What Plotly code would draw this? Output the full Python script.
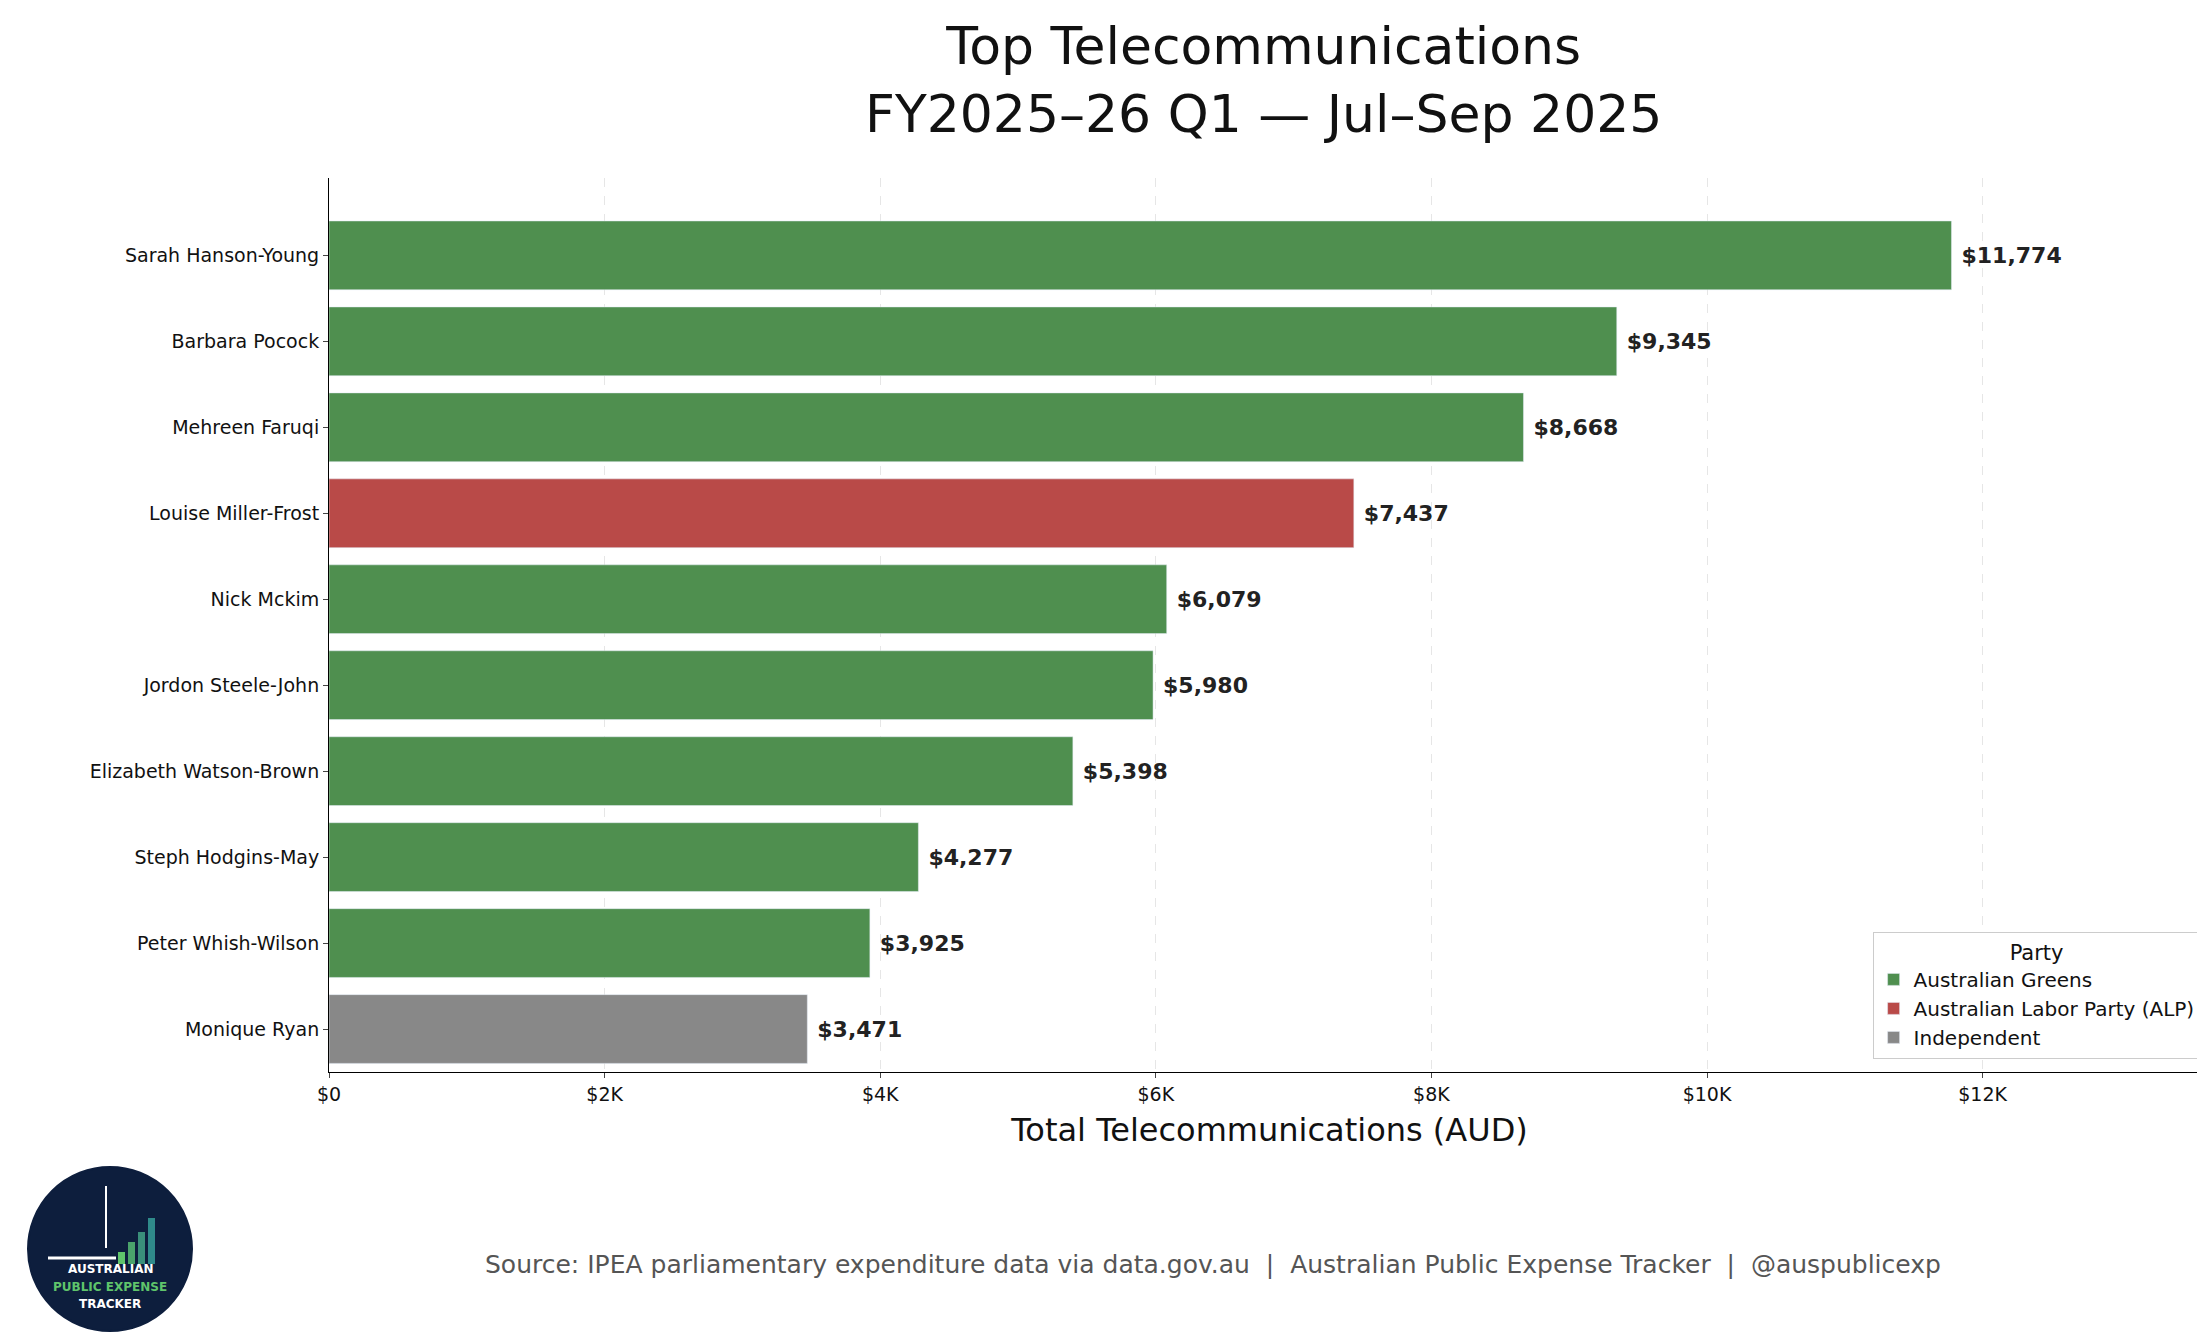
import plotly.graph_objects as go

names = ["Sarah Hanson-Young","Barbara Pocock","Mehreen Faruqi","Louise Miller-Frost","Nick Mckim",
         "Jordon Steele-John","Elizabeth Watson-Brown","Steph Hodgins-May","Peter Whish-Wilson","Monique Ryan"]
values = [11774,9345,8668,7437,6079,5980,5398,4277,3925,3471]
parties = ["Australian Greens"]*3+["Australian Labor Party (ALP)"]+["Australian Greens"]*5+["Independent"]
colors = {"Australian Greens":"#4f8f4f","Australian Labor Party (ALP)":"#b94a48","Independent":"#888888"}
tickvals = [0,2000,4000,6000,8000,10000,12000]
ticktext = ["$0","$2K","$4K","$6K","$8K","$10K","$12K"]

W=1881; H=894; B=1064; L=321
def px(x): return (x-L)/W
def py(y): return -(y-B)/H

fig = go.Figure()
for p in colors:
    xs=[v for v,q in zip(values,parties) if q==p]
    ys=[n for n,q in zip(names,parties) if q==p]
    fig.add_trace(go.Bar(x=xs,y=ys,orientation="h",name=p,marker_color=colors[p],width=0.8,
        text=[f" <b>${v:,}</b>" for v in xs],textposition="outside",cliponaxis=False,
        textfont=dict(size=22,color="#222")))
fig.update_layout(
    width=2205,height=1337,plot_bgcolor="white",paper_bgcolor="white",
    font=dict(family="DejaVu Sans",color="#111"),
    margin=dict(l=321,r=3,t=170,b=273),barmode="overlay",
    xaxis=dict(range=[0,13650],tickvals=tickvals,ticktext=ticktext,showline=True,linecolor="black",
               ticks="outside",tickfont=dict(size=19),showgrid=True,gridcolor="#e6e6e6",griddash="dash",
               zeroline=False,title=dict(text="Total Telecommunications (AUD)",font=dict(size=32),standoff=14)),
    yaxis=dict(categoryorder="array",categoryarray=names[::-1],showline=True,linecolor="black",
               ticks="outside",tickfont=dict(size=19),range=[-0.5,9.9]),
    legend=dict(title=dict(text="Party",side="top center",font=dict(size=21)),x=0.995,y=0.015,xanchor="right",yanchor="bottom",
                bordercolor="#ccc",borderwidth=1,font=dict(size=20),traceorder="normal"),
    showlegend=True,
)
fig.add_annotation(text="Top Telecommunications<br>FY2025–26 Q1 — Jul–Sep 2025",xref="paper",yref="paper",
    x=px(1255),y=py(72),xanchor="center",yanchor="middle",showarrow=False,font=dict(size=52,color="#111"))
fig.add_annotation(text="Source: IPEA parliamentary expenditure data via data.gov.au  |  Australian Public Expense Tracker  |  @auspublicexp",
    xref="paper",yref="paper",x=px(1205),y=py(1273),showarrow=False,xanchor="center",font=dict(size=25,color="#555"))
fig.add_shape(type="circle",xref="paper",yref="paper",x0=px(20),x1=px(184),
    y0=py(1323),y1=py(1159),fillcolor="#0d1e3d",line=dict(color="#0d1e3d"))
for t,yy,c in [("AUSTRALIAN",1270,"white"),("PUBLIC EXPENSE",1288,"#5fc46b"),("TRACKER",1305,"white")]:
    fig.add_annotation(text=f"<b>{t}</b>",xref="paper",yref="paper",x=px(102),y=py(yy),xanchor="center",
        showarrow=False,font=dict(size=12,color=c))
for i,h in enumerate([12,22,32,46]):
    x0=110+i*10
    fig.add_shape(type="rect",xref="paper",yref="paper",x0=px(x0),x1=px(x0+7),
        y0=py(1256),y1=py(1256-h),fillcolor=["#5fc46b","#4aa36b","#3a8f7a","#2f8a8a"][i],line_width=0)
fig.add_shape(type="line",xref="paper",yref="paper",x0=px(40),x1=px(108),
    y0=py(1250),y1=py(1250),line=dict(color="white",width=3))
fig.add_shape(type="line",xref="paper",yref="paper",x0=px(98),x1=px(98),
    y0=py(1240),y1=py(1178),line=dict(color="white",width=2))
fig.write_html("out.html")
